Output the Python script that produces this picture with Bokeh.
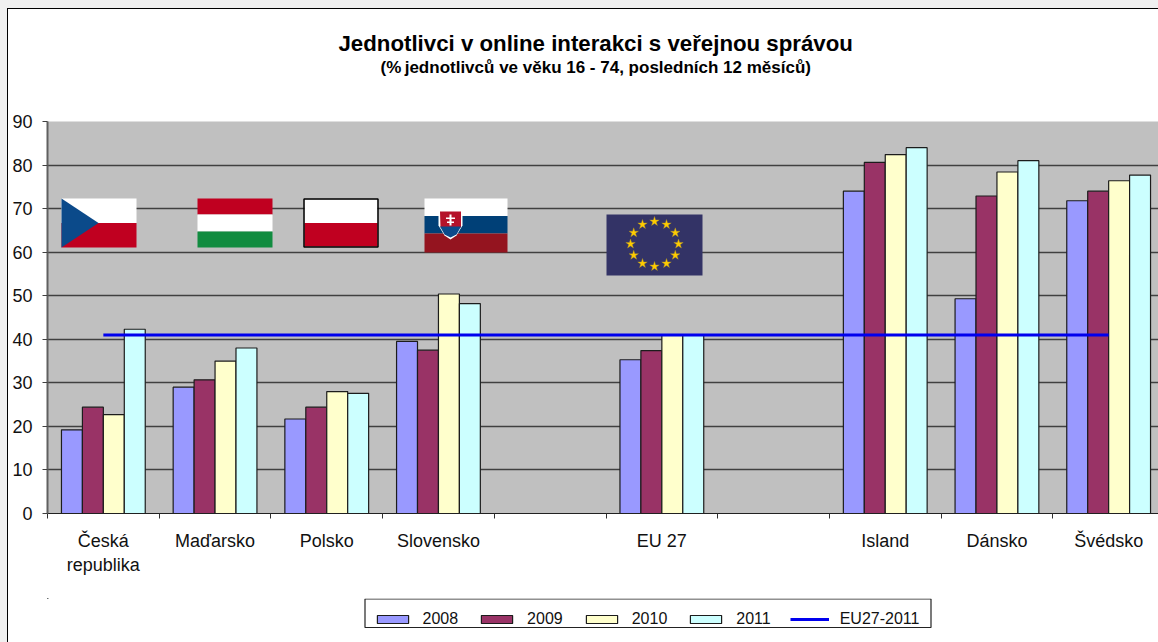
import math
from bokeh.embed import file_html
from bokeh.layouts import column
from bokeh.models import FixedTicker, Legend, LegendItem, Title, Range1d
from bokeh.plotting import figure
from bokeh.resources import INLINE

categories = ["Česká\nrepublika", "Maďarsko", "Polsko", "Slovensko", "", "EU 27", "", "Island", "Dánsko", "Švédsko"]
series_names = ["2008", "2009", "2010", "2011"]
colors = ["#9999ff", "#993366", "#ffffcc", "#ccffff"]
v2008 = [19.2, 29.0, 21.7, 39.5, None, 35.3, None, 74.0, 49.3, 71.8]
v2009 = [24.4, 30.7, 24.4, 37.5, None, 37.4, None, 80.6, 72.9, 74.0]
v2010 = [22.7, 35.0, 28.0, 50.4, None, 41.0, None, 82.4, 78.4, 76.4]
v2011 = [42.3, 38.0, 27.6, 48.2, None, 41.0, None, 84.0, 81.0, 77.7]
eu_line = [41.0] * 10
y_ticks = list(range(0, 100, 10))

FONT = "Liberation Sans"
L, T, B, R = 47.0, 121.0, 513.0, 1158.0
CW = 111.7
xd = lambda px: (px - L) / CW
yd = lambda py: (B - py) / (B - T) * 90

p = figure(width=1150, height=589, output_backend="svg", toolbar_location=None,
           x_range=Range1d(0, xd(R)), y_range=Range1d(0, 90),
           min_border_left=39, min_border_right=0, min_border_top=112, min_border_bottom=85,
           background_fill_color="#c0c0c0", border_fill_color="#ffffff", outline_line_color=None)

# axes
p.yaxis.ticker = FixedTicker(ticks=y_ticks)
p.yaxis.major_label_text_font = FONT
p.yaxis.major_label_text_font_size = "18px"
p.yaxis.major_label_text_color = "#111111"
p.yaxis.major_label_standoff = 10
p.yaxis.axis_line_color = "#606060"
p.yaxis.axis_line_width = 2
p.yaxis.major_tick_line_color = "#404040"
p.yaxis.major_tick_out = 5
p.yaxis.major_tick_in = 0
p.yaxis.minor_tick_line_color = None

mid = [i + 0.5 for i in range(len(categories))]
p.xaxis.ticker = FixedTicker(ticks=mid, minor_ticks=list(range(len(categories) + 1)))
p.xaxis.major_label_overrides = {m: c for m, c in zip(mid, categories)}
p.xaxis.major_label_text_font = FONT
p.xaxis.major_label_text_font_size = "18px"
p.xaxis.major_label_text_color = "#111111"
p.xaxis.major_label_standoff = 11
p.xaxis.major_tick_line_color = None
p.xaxis.minor_tick_line_color = "#303030"
p.xaxis.minor_tick_out = 5
p.xaxis.minor_tick_in = 0
p.xaxis.axis_line_color = "#202020"

p.xgrid.visible = False
p.ygrid.ticker = FixedTicker(ticks=y_ticks)
p.ygrid.grid_line_color = "#404040"
p.ygrid.grid_line_width = 1.4

def box(x0, y0, x1, y1, color):
    p.quad(left=[xd(x0)], right=[xd(x1)], top=[yd(y0)], bottom=[yd(y1)], fill_color=color, line_color=None)

def poly(pts, color):
    p.patch([xd(a) for a, _ in pts], [yd(b) for _, b in pts], fill_color=color, line_color=None)

# Czech
box(61, 198, 136, 222.5, "#ffffff")
box(61, 222.5, 136, 247, "#c00020")
poly([(61, 198), (98, 222.5), (61, 247)], "#0b4a8a")
# Hungary
box(197, 198, 272, 214, "#c00020")
box(197, 214, 272, 231, "#ffffff")
box(197, 231, 272, 247, "#118c40")
# Poland
box(304, 199, 377, 222.5, "#ffffff")
box(304, 222.5, 377, 246, "#c00020")
p.quad(left=[xd(303.5)], right=[xd(377.5)], top=[yd(198.5)], bottom=[yd(246.5)], fill_color=None,
       line_color="#000000", line_width=1.5)
# Slovakia
box(424, 198, 507, 215.5, "#ffffff")
box(424, 215.5, 507, 233, "#004077")
box(424, 233, 507, 252, "#94141f")
poly([(438, 210), (462, 210), (462, 225), (456, 235), (450, 239), (444, 235), (438, 225)], "#ffffff")
poly([(439.5, 211), (460.5, 211), (460.5, 227), (440, 227)], "#b5122a")
poly([(439.5, 226), (460.5, 226), (456, 234), (450, 237), (444, 234)], "#0b4a8a")
box(449, 214, 451, 225, "#ffffff")
box(445.5, 217, 454.5, 218.5, "#ffffff")
box(446.5, 221, 453.5, 222.5, "#ffffff")
# EU
box(606, 214, 702, 275, "#333366")
star_x = [xd(654 + 24 * math.sin(i * math.pi / 6)) for i in range(12)]
star_y = [yd(243.5 - 22.5 * math.cos(i * math.pi / 6)) for i in range(12)]
p.scatter(star_x, star_y, marker="star", size=10, fill_color="#ffcc00", line_color="#a89030", line_width=0.4)

# bars
bw = 0.1875
all_vals = [v2008, v2009, v2010, v2011]
for k, (vals, col) in enumerate(zip(all_vals, colors)):
    xs = [i + 0.125 + bw * (k + 0.5) for i, v in enumerate(vals) if v is not None]
    ys = [v for v in vals if v is not None]
    p.vbar(x=xs, top=ys, width=bw, bottom=0, fill_color=col, line_color="#1c1c1c", line_width=1.2)

p.line(x=mid, y=eu_line, line_color="#0000ee", line_width=3)

# titles (a blank title is the spacer between the frame and the subtitle)
spacer = Title(text=" ", text_font=FONT, text_font_size="10px", standoff=32)
sub = Title(text="(%\u2009jednotlivců ve věku 16 - 74, posledních 12 měsíců)", align="left", offset=333,
            text_font=FONT, text_font_size="17px", text_font_style="bold", text_color="#000000", standoff=0)
main = Title(text="Jednotlivci v online interakci s veřejnou správou", align="left", offset=291,
             text_font=FONT, text_font_size="22.25px", text_font_style="bold", text_color="#000000", standoff=0)
p.add_layout(spacer, "above")
p.add_layout(sub, "above")
p.add_layout(main, "above")

# legend strip below the plot; its x/y ranges are page pixels, so the series stay out of view
q = figure(width=1150, height=44, output_backend="svg", toolbar_location=None,
           x_axis_location=None, y_axis_location=None, x_range=Range1d(47, 1158), y_range=Range1d(642, 598),
           min_border=0, outline_line_color=None, background_fill_color=None, border_fill_color="#ffffff")
q.xgrid.visible = False
q.ygrid.visible = False
q.quad(left=[364.5], right=[930.5], top=[598.5], bottom=[627], fill_color="#ffffff", line_color="#222222", line_width=1.2)
items = []
for name, vals, col in zip(series_names, all_vals, colors):
    ys = [v for v in vals if v is not None]
    r = q.vbar(x=list(range(len(ys))), top=ys, width=0.5, bottom=0, fill_color=col, line_color="#1c1c1c", line_width=1.2)
    items.append(LegendItem(label=name, renderers=[r]))
lr = q.line(x=mid, y=eu_line, line_color="#0000ee", line_width=3)
items.append(LegendItem(label="EU27-2011", renderers=[lr]))
leg = Legend(items=items, orientation="horizontal", location=(325.5, 14),
             glyph_width=39, glyph_height=10, label_standoff=11, spacing=19, padding=5, margin=0,
             label_text_font=FONT, label_text_font_size="16px", label_text_color="#111111",
             label_height=12, border_line_color=None, background_fill_alpha=0.0)
q.add_layout(leg, "center")
q.quad(left=[47], right=[53], top=[598], bottom=[606], fill_color="#ffffff", line_color=None, level="overlay")

page = column(p, q, spacing=0)
html = file_html(page, INLINE)
html = html.replace("</head>", "<style>html{background:#f0f0f0 !important;overflow:hidden}body{background:#ffffff !important;overflow:hidden;margin:8px 0 0 7px !important;border-left:1px solid #000;border-top:1px solid #000}</style></head>", 1)
open("out.html", "w").write(html)
